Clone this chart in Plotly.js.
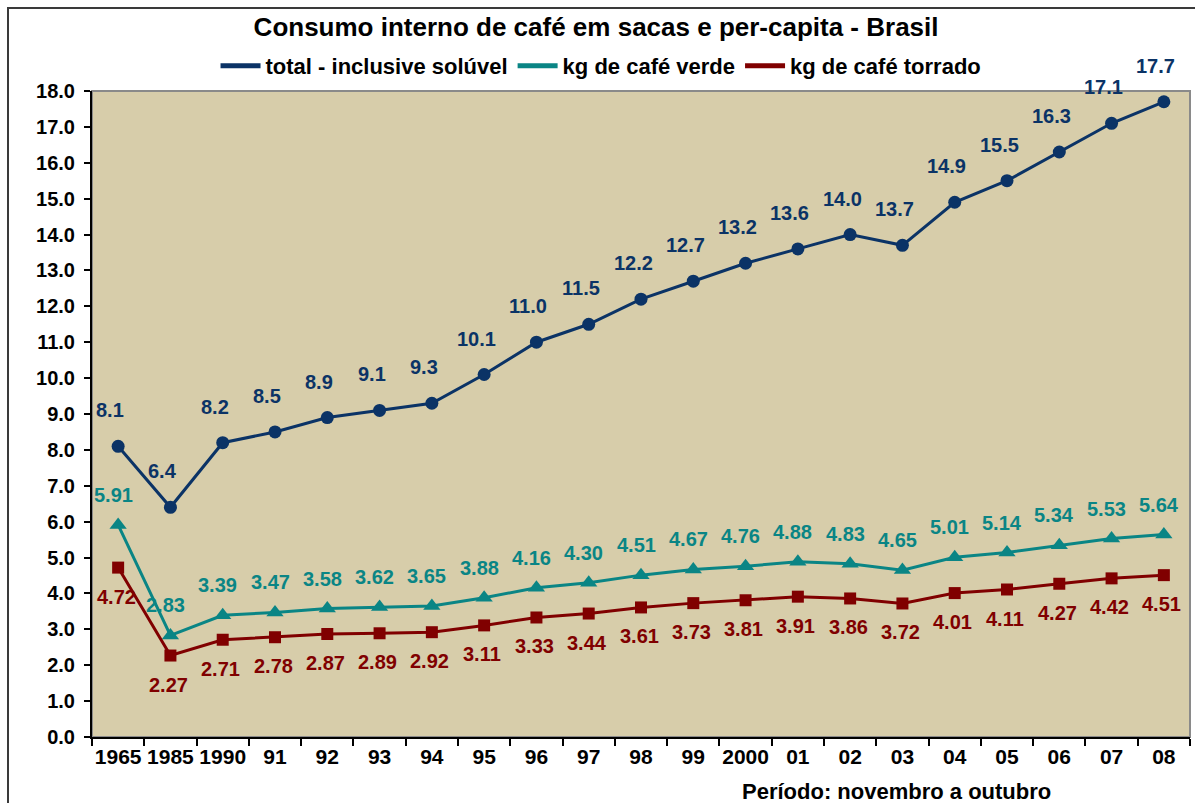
<!DOCTYPE html>
<html>
<head>
<meta charset="utf-8">
<script src="https://cdn.plot.ly/plotly-3.0.1.min.js"></script>
<style>
  html, body { margin: 0; padding: 0; background: #ffffff; overflow: hidden; }
  #frame { position: absolute; left: 7px; top: 7px; width: 1188px; height: 796px;
           border-left: 2px solid #3a3a3a; border-top: 2px solid #3a3a3a; }
  #chart { position: absolute; left: 0; top: 0; width: 1186px; height: 794px; }
</style>
</head>
<body>
<div id="frame"><div id="chart"></div></div>
<script>
const categories = ["1965","1985","1990","91","92","93","94","95","96","97","98","99","2000","01","02","03","04","05","06","07","08"];
const totalSacas = [8.1, 6.4, 8.2, 8.5, 8.9, 9.1, 9.3, 10.1, 11.0, 11.5, 12.2, 12.7, 13.2, 13.6, 14.0, 13.7, 14.9, 15.5, 16.3, 17.1, 17.7];
const kgVerde = [5.91, 2.83, 3.39, 3.47, 3.58, 3.62, 3.65, 3.88, 4.16, 4.30, 4.51, 4.67, 4.76, 4.88, 4.83, 4.65, 5.01, 5.14, 5.34, 5.53, 5.64];
const kgTorrado = [4.72, 2.27, 2.71, 2.78, 2.87, 2.89, 2.92, 3.11, 3.33, 3.44, 3.61, 3.73, 3.81, 3.91, 3.86, 3.72, 4.01, 4.11, 4.27, 4.42, 4.51];
const seriesNames = ["total - inclusive solúvel", "kg de café verde", "kg de café torrado"];

const cNavy = "#0b3366", cTeal = "#0a8585", cRed = "#800000";
const FONT = "Liberation Sans, Arial, sans-serif";

const traces = [
  { x: categories, y: totalSacas, mode: "lines+markers", showlegend: false, hoverinfo: "y",
    line: { color: cNavy, width: 3 }, marker: { symbol: "circle", size: 13, color: cNavy } },
  { x: categories, y: kgVerde, mode: "lines+markers", showlegend: false, hoverinfo: "y",
    line: { color: cTeal, width: 3 }, marker: { symbol: "triangle-up", size: 15, color: cTeal } },
  { x: categories, y: kgTorrado, mode: "lines+markers", showlegend: false, hoverinfo: "y",
    line: { color: cRed, width: 3 }, marker: { symbol: "square", size: 12, color: cRed } },
  // legend-only entries (lines without markers, like the original)
  { x: [null], y: [null], mode: "lines", name: seriesNames[0], line: { color: cNavy, width: 5 } },
  { x: [null], y: [null], mode: "lines", name: seriesNames[1], line: { color: cTeal, width: 5 } },
  { x: [null], y: [null], mode: "lines", name: seriesNames[2], line: { color: cRed, width: 5 } }
];

const annotations = [];
function addLabels(vals, color, digits, yshift, xshift) {
  vals.forEach((v, i) => {
    annotations.push({ x: i, y: v, xref: "x", yref: "y", text: v.toFixed(digits),
      showarrow: false, yshift: yshift, xshift: xshift,
      font: { family: FONT, size: 20, color: color, weight: "bold" } });
  });
}
addLabels(totalSacas, cNavy, 1, 36, -8);
addLabels(kgVerde, cTeal, 2, 30, -5);
addLabels(kgTorrado, cRed, 2, -29, -2);
annotations.push({ xref: "paper", yref: "paper", x: 0.733, y: -0.0836, xanchor: "center", yanchor: "middle",
  text: "Período: novembro a outubro", showarrow: false,
  font: { family: FONT, size: 22, color: "#000", weight: "bold" } });

const layout = {
  width: 1186, height: 794,
  margin: { l: 83, r: 5, t: 82, b: 66 },
  paper_bgcolor: "rgba(0,0,0,0)",
  plot_bgcolor: "#d7cdaa",
  font: { family: FONT, color: "#000" },
  title: { text: "Consumo interno de café em sacas e per-capita - Brasil",
           x: 0.495, xref: "container", xanchor: "center", y: 0.977, yanchor: "middle",
           font: { family: FONT, size: 26, color: "#000", weight: "bold" } },
  showlegend: true,
  legend: { orientation: "h", x: 0.4636, xanchor: "center", xref: "paper", y: 1.0387, yanchor: "middle",
            font: { family: FONT, size: 22, weight: "bold", color: "#000" },
            bgcolor: "rgba(0,0,0,0)", itemwidth: 40, tracegroupgap: 0 },
  xaxis: { type: "category", tickmode: "array", tickvals: categories, ticktext: categories,
           tickson: "boundaries", ticks: "outside", ticklen: 7, tickwidth: 2, tickcolor: "#000",
           tickangle: 0, automargin: false,
           showline: true, linecolor: "#000", linewidth: 2, showgrid: false, zeroline: false,
           range: [-0.5, categories.length - 0.5], fixedrange: true,
           tickfont: { family: FONT, size: 21, color: "#000", weight: "bold" } },
  yaxis: { range: [0, 18], dtick: 1, tick0: 0, tickformat: ".1f", ticks: "outside", ticklen: 6,
           tickwidth: 2, tickcolor: "#000", showline: true, linecolor: "#000", linewidth: 2,
           showgrid: false, zeroline: false, fixedrange: true, ticklabelstandoff: 5,
           tickfont: { family: FONT, size: 20, color: "#000", weight: "bold" } },
  shapes: [
    { type: "rect", xref: "paper", yref: "paper", x0: 0, x1: 1, y0: 0, y1: 1,
      line: { color: "#8a8a8a", width: 2 }, fillcolor: "rgba(0,0,0,0)", layer: "below" }
  ],
  annotations: annotations
};

Plotly.newPlot("chart", traces, layout, { displayModeBar: false, staticPlot: true });
</script>
</body>
</html>
